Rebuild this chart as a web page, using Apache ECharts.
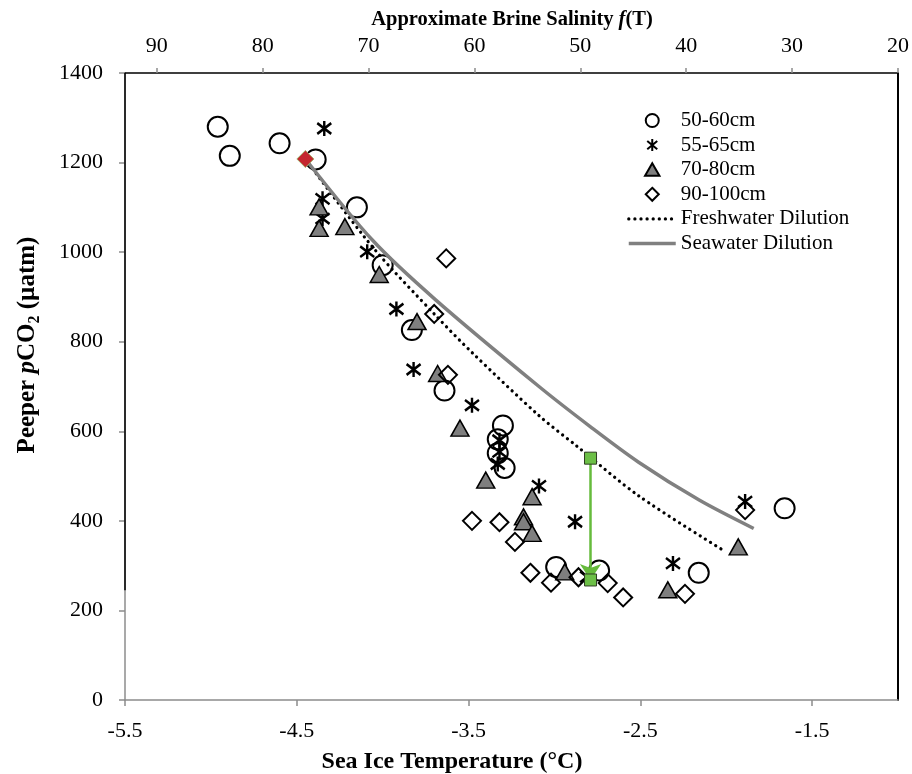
<!DOCTYPE html>
<html>
<head>
<meta charset="utf-8">
<script src="https://cdn.jsdelivr.net/npm/echarts@6/dist/echarts.min.js"></script>
<style>
  html, body { margin: 0; padding: 0; background: #fff; }
  #chart { width: 912px; height: 774px; }
</style>
</head>
<body>
<div id="chart"></div>
<script>
// Peeper pCO2 against sea ice temperature, by sampling depth

// tick values
const temperatureTicks = [-5.5, -4.5, -3.5, -2.5, -1.5];
const salinityTicks = [90, 80, 70, 60, 50, 40, 30, 20];
const pco2Ticks = [0, 200, 400, 600, 800, 1000, 1200, 1400];

// [temperature (°C), pCO2 (µatm)]
const depth50to60 = [
  [-4.96, 1280], [-4.89, 1215], [-4.60, 1243], [-4.39, 1207], [-4.15, 1100],
  [-4.00, 971], [-3.83, 826], [-3.64, 691], [-3.30, 613], [-3.33, 582],
  [-3.33, 551], [-3.29, 518], [-2.99, 297], [-2.74, 289], [-2.16, 284], [-1.66, 428]
];
const depth55to65 = [
  [-4.34, 1276], [-4.35, 1119], [-4.35, 1075], [-4.09, 1001], [-3.92, 873],
  [-3.82, 738], [-3.48, 658], [-3.32, 580], [-3.32, 554], [-3.33, 527],
  [-3.09, 478], [-2.88, 398], [-2.81, 275], [-2.31, 305], [-1.89, 443]
];
const depth70to80 = [
  [-4.37, 1101], [-4.37, 1053], [-4.22, 1057], [-4.02, 950], [-3.80, 845],
  [-3.68, 729], [-3.55, 607], [-3.40, 491], [-3.13, 454], [-3.18, 409],
  [-3.18, 398], [-3.13, 372], [-2.94, 286], [-2.34, 246], [-1.93, 342]
];
const depth90to100 = [
  [-3.63, 986], [-3.70, 862], [-3.62, 726], [-3.48, 400], [-3.32, 397],
  [-3.23, 353], [-3.14, 284], [-3.02, 262], [-2.86, 274], [-2.69, 261],
  [-2.60, 229], [-2.24, 237], [-1.89, 424]
];

// dilution curves from the starting brine
const freshwaterDilution = [
  [-4.45, 1208], [-4.06, 1012], [-3.69, 858], [-3.48, 776], [-3.09, 635],
  [-2.88, 570], [-2.51, 456], [-2.02, 335]
];
const seawaterDilution = [
  [-4.45, 1208], [-4.06, 1027], [-3.69, 893], [-3.09, 700], [-2.79, 610],
  [-2.51, 531], [-2.16, 447], [-1.84, 383]
];
const startingBrine = [[-4.45, 1208]];
const dilutionStep = [[-2.79, 540], [-2.79, 268]];

// upper part of the left frame edge, drawn in black
const leftFrameEdge = [[-5.5, 245], [-5.5, 1400]];

const SERIF = "'Liberation Serif', 'Times New Roman', serif";
const GREY = '#8c8c8c';

// legend icons: the leading moves pad each glyph to the full icon box so it is not stretched
const PAD = 'M-23.5,-6.5M23.5,6.5';
const starPath = 'M0,-7L0,7M-6,-5L6,5M-6,5L6,-5';
const legendStar = 'path://' + PAD + 'M0,-6L0,6M-5,-4.2L5,4.2M-5,4.2L5,-4.2';
const legendTriangle = 'path://' + PAD + 'M0,-6.5L7.2,6L-7.2,6Z';
const legendDiamond = 'path://' + PAD + 'M0,-6.5L6.5,0L0,6.5L-6.5,0Z';

const dottedStyle = { color: '#000', width: 3.2, type: [0.1, 6], cap: 'round' };
const solidGreyStyle = { color: '#808080', width: 3.5 };

const labelStyle = { fontFamily: SERIF, fontSize: 22, color: '#000', formatter: v => String(v) };

const chart = echarts.init(document.getElementById('chart'), null, { renderer: 'canvas' });

chart.setOption({
  animation: false,
  backgroundColor: '#fff',
  grid: { left: 125, right: 13, top: 73, bottom: 74 },
  xAxis: [
    {
      type: 'value', position: 'bottom', min: -5.5, max: -1.0, interval: 1,
      axisLine: { show: true, onZero: false, lineStyle: { color: GREY, width: 1.5 } },
      axisTick: { show: true, length: 6, customValues: temperatureTicks, lineStyle: { color: GREY, width: 1.5 } },
      axisLabel: Object.assign({ customValues: temperatureTicks, margin: 20 }, labelStyle),
      splitLine: { show: false }
    },
    {
      type: 'value', position: 'top', min: 20, max: 93, inverse: true, interval: 10,
      axisLine: { show: true, onZero: false, lineStyle: { color: '#000', width: 1.5 } },
      axisTick: { show: true, length: 5, customValues: salinityTicks, lineStyle: { color: GREY, width: 1.5 } },
      axisLabel: Object.assign({ customValues: salinityTicks, margin: 16 }, labelStyle),
      splitLine: { show: false }
    }
  ],
  yAxis: [
    {
      type: 'value', min: 0, max: 1400, interval: 200,
      axisLine: { show: true, onZero: false, lineStyle: { color: GREY, width: 1.5 } },
      axisTick: { show: true, length: 6, customValues: pco2Ticks, lineStyle: { color: GREY, width: 1.5 } },
      axisLabel: Object.assign({ customValues: pco2Ticks, margin: 22 }, labelStyle),
      splitLine: { show: false }
    },
    {
      type: 'value', position: 'right', min: 0, max: 1400, interval: 200,
      axisLine: { show: true, onZero: false, lineStyle: { color: '#000', width: 2 } },
      axisTick: { show: false },
      axisLabel: { show: false },
      splitLine: { show: false }
    }
  ],
  legend: {
    orient: 'vertical', left: 627, top: 110, padding: 0,
    itemWidth: 47, itemHeight: 13, itemGap: 3.6,
    textStyle: { fontFamily: SERIF, fontSize: 21, color: '#000', lineHeight: 21 },
    data: [
      { name: '50-60cm' },
      { name: '55-65cm', icon: legendStar },
      { name: '70-80cm', icon: legendTriangle },
      { name: '90-100cm', icon: legendDiamond },
      { name: 'Freshwater Dilution', itemStyle: { opacity: 0 }, lineStyle: dottedStyle },
      { name: 'Seawater Dilution', itemStyle: { opacity: 0 }, lineStyle: solidGreyStyle }
    ]
  },
  graphic: [
    {
      type: 'text', x: 452, y: 762,
      style: { text: 'Sea Ice Temperature (°C)', fontFamily: SERIF, fontSize: 24, fontWeight: 'bold',
        fill: '#000', align: 'center', verticalAlign: 'middle' }
    },
    {
      type: 'text', x: 512, y: 20,
      style: { text: 'Approximate Brine Salinity {i|f}(T)', fontFamily: SERIF, fontSize: 20.5, fontWeight: 'bold',
        fill: '#000', align: 'center', verticalAlign: 'middle',
        rich: { i: { fontFamily: SERIF, fontSize: 20.5, fontWeight: 'bold', fontStyle: 'italic' } } }
    },
    {
      type: 'text', x: 28, y: 345, rotation: Math.PI / 2,
      style: { text: 'Peeper {i|p}CO{s|2} (µatm)', fontFamily: SERIF, fontSize: 25, fontWeight: 'bold',
        fill: '#000', align: 'center', verticalAlign: 'middle',
        rich: {
          i: { fontFamily: SERIF, fontSize: 25, fontWeight: 'bold', fontStyle: 'italic' },
          s: { fontFamily: SERIF, fontSize: 16, fontWeight: 'bold', padding: [13, 0, 0, 0], lineHeight: 16 }
        } }
    }
  ],
  series: [
    {
      name: '50-60cm', type: 'scatter', data: depth50to60,
      symbol: 'circle', symbolSize: 20,
      itemStyle: { color: 'rgba(255,255,255,0)', borderColor: '#000', borderWidth: 2, opacity: 1 },
      z: 2
    },
    {
      name: '55-65cm', type: 'scatter', data: depth55to65,
      symbol: 'path://' + starPath, symbolSize: [14, 15],
      itemStyle: { color: 'rgba(0,0,0,0)', borderColor: '#000', borderWidth: 2.5, opacity: 1 },
      z: 2
    },
    {
      name: '70-80cm', type: 'scatter', data: depth70to80,
      symbol: 'triangle', symbolSize: [18, 16],
      itemStyle: { color: '#7f7f7f', borderColor: '#000', borderWidth: 1.5, opacity: 1 },
      z: 2
    },
    {
      name: '90-100cm', type: 'scatter', data: depth90to100,
      symbol: 'diamond', symbolSize: 18,
      itemStyle: { color: 'rgba(255,255,255,0)', borderColor: '#000', borderWidth: 2, opacity: 1 },
      z: 2
    },
    {
      name: 'Freshwater Dilution', type: 'line', data: freshwaterDilution,
      smooth: 0.3, symbol: 'none', showSymbol: false,
      lineStyle: dottedStyle,
      itemStyle: { color: '#000' },
      z: 3
    },
    {
      name: 'Seawater Dilution', type: 'line', data: seawaterDilution,
      smooth: 0.3, symbol: 'none', showSymbol: false,
      lineStyle: solidGreyStyle,
      itemStyle: { color: '#808080' },
      z: 3
    },
    {
      name: 'frame', type: 'line', data: leftFrameEdge, symbol: 'none', clip: false, silent: true,
      lineStyle: { color: '#000', width: 1.5 },
      z: 4
    },
    {
      name: 'start', type: 'scatter', data: startingBrine,
      symbol: 'diamond', symbolSize: 17,
      itemStyle: { color: '#c4262e', borderColor: '#a3a868', borderWidth: 1, opacity: 1 },
      z: 5
    },
    {
      name: 'step', type: 'line', data: [], silent: true,
      markLine: {
        silent: true, symbol: ['none', 'arrow'], symbolSize: 16,
        label: { show: false },
        lineStyle: { color: '#66bb3c', width: 2.5, type: 'solid' },
        data: [[{ coord: dilutionStep[0] }, { coord: dilutionStep[1] }]]
      },
      z: 5
    },
    {
      name: 'stepEnds', type: 'scatter', data: dilutionStep,
      symbol: 'rect', symbolSize: 12,
      itemStyle: { color: '#6cbf47', borderColor: '#2e3d22', borderWidth: 1, opacity: 1 },
      z: 6
    }
  ]
});
</script>
</body>
</html>
